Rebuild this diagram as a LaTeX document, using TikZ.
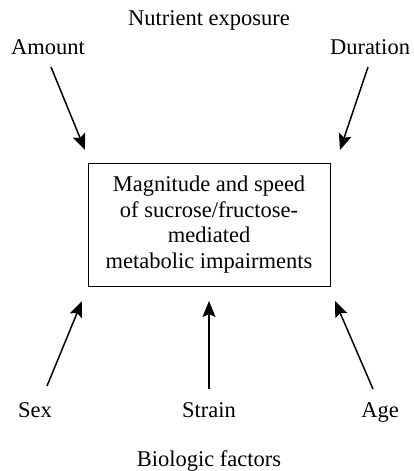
\documentclass[tikz,border=0pt]{standalone}
\usepackage{fontspec}
\setmainfont{Liberation Serif}
\usetikzlibrary{arrows.meta}
\begin{document}
\begin{tikzpicture}[x=1pt,y=-1pt,
  lbl/.style={font=\fontsize{22.5}{26}\selectfont, inner sep=0pt, anchor=base},
  arr/.style={line width=1.5pt, -{Stealth[length=16pt,width=13pt,inset=3pt]}},
  mainbox/.style={draw, line width=1pt, minimum width=242pt, minimum height=123pt,
    align=center, font=\fontsize{22.5}{25.5}\selectfont, inner sep=0pt}]
\useasboundingbox (0,0) rectangle (413,471);
\node[lbl] (nut) at (209,25) {Nutrient exposure};
\node[lbl] (amount) at (48,54) {Amount};
\node[lbl] (duration) at (370,54) {Duration};
\node[mainbox] (box) at (209,224.5) {Magnitude and speed\\of sucrose/fructose-\\mediated\\metabolic impairments};
\node[lbl] (sex) at (35,417) {Sex};
\node[lbl] (strain) at (209,417) {Strain};
\node[lbl] (age) at (380,417) {Age};
\node[lbl] (bio) at (209,466) {Biologic factors};
\coordinate (a1) at (51,67);   \coordinate (a2) at (85,150);
\coordinate (d1) at (368,67);  \coordinate (d2) at (340,150);
\coordinate (s1) at (47,386);  \coordinate (s2) at (82,301);
\coordinate (t1) at (209,389); \coordinate (t2) at (209,301);
\coordinate (g1) at (373,389); \coordinate (g2) at (335,301);
\draw[arr] (a1) -- (a2);
\draw[arr] (d1) -- (d2);
\draw[arr] (s1) -- (s2);
\draw[arr] (t1) -- (t2);
\draw[arr] (g1) -- (g2);
\end{tikzpicture}
\end{document}
